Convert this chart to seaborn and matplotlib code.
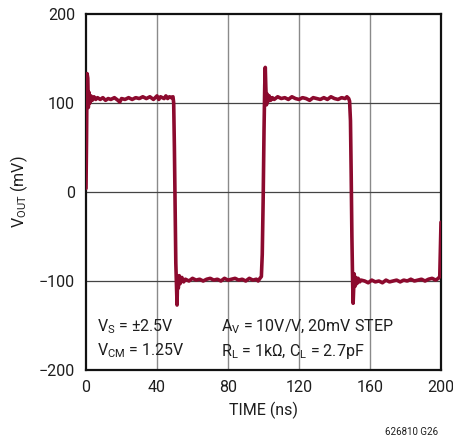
import numpy as np
import pandas as pd
import matplotlib
matplotlib.use("Agg")
import matplotlib.pyplot as plt
import seaborn as sns

# ---------- DATA ----------
high1_t = [0, 0.3, 0.6, 1.0, 1.3, 1.7, 2.2, 2.8, 3.5, 4.5, 5.5, 6.5, 8, 9.5, 11, 12.5, 14, 16, 18, 19,
           20, 22, 24, 26, 28, 30, 32, 34, 36, 38, 40, 41, 42, 44, 45, 46, 47, 48, 49]
high1_v = [4, 60, 133, 128, 95, 112, 100, 108, 103, 107, 104, 106, 104, 106, 103, 105, 104, 106, 103, 101,
           105, 104, 106, 104, 106, 105, 107, 105, 107, 104, 108, 104, 107, 105, 108, 105, 107, 106, 107]

fall1_t = [49.4, 49.8, 50.2, 50.6, 51.0, 51.3, 51.6, 52.0, 52.5, 53, 54, 55, 56]
fall1_v = [100, 50, -20, -80, -105, -127, -95, -108, -94, -103, -96, -101, -98]

low1_t = [58, 60, 62, 64, 66, 68, 70, 72, 74, 76, 78, 80, 82, 84, 86, 88, 90, 92, 94, 96, 97, 98, 98.8]
low1_v = [-100, -97, -99, -98, -100, -98, -97, -99, -98, -100, -97, -99, -98, -97, -99, -98, -100, -97,
          -99, -98, -100, -97, -95]

rise1_t = [99.3, 99.8, 100.3, 100.7, 101.0, 101.3, 101.7, 102.1, 102.6, 103.2, 104, 105]
rise1_v = [-70, -10, 70, 120, 140, 118, 98, 110, 102, 108, 103, 106]

high2_t = [106, 108, 110, 112, 114, 116, 118, 120, 122, 124, 126, 128, 130, 132, 134, 136, 138, 140,
           142, 144, 146, 147, 148, 148.5]
high2_v = [104, 107, 105, 106, 104, 107, 105, 104, 106, 105, 103, 106, 105, 104, 106, 104, 107, 105,
           104, 106, 105, 107, 105, 102]

fall2_t = [149.0, 149.4, 149.8, 150.2, 150.5, 150.8, 151.1, 151.5, 152, 152.6, 153.3, 154.2, 155]
fall2_v = [80, 20, -50, -100, -125, -110, -92, -106, -96, -103, -97, -101, -99]

low2_t = [157, 159, 161, 163, 165, 167, 169, 171, 173, 175, 177, 179, 181, 183, 185, 187, 189, 191,
          193, 195, 197, 198.5, 199.3, 199.7, 200]
low2_v = [-100, -102, -99, -101, -100, -102, -99, -101, -100, -99, -101, -99, -100, -98, -100, -99,
          -98, -100, -98, -97, -99, -97, -95, -60, -34]

x_ticks = [0, 40, 80, 120, 160, 200]
y_ticks = [-200, -100, 0, 100, 200]
# ------------------------------------------------------

TRACE = "#8c0a2e"
FONT = ["Roboto", "DejaVu Sans"]
INK = "#1e1e1e"


def main():
    sns.set_style("white")
    plt.rcParams["font.family"] = FONT
    plt.rcParams["mathtext.fontset"] = "custom"
    plt.rcParams["mathtext.rm"] = "Roboto"
    plt.rcParams["mathtext.it"] = "Roboto"

    t = high1_t + fall1_t + low1_t + rise1_t + high2_t + fall2_t + low2_t
    v = high1_v + fall1_v + low1_v + rise1_v + high2_v + fall2_v + low2_v
    df = pd.DataFrame({"t": t, "v": v})

    fig = plt.figure(figsize=(4.53, 4.38), dpi=100)
    ax = fig.add_axes([86 / 453, 68 / 438, 355 / 453, 356 / 438])

    for xv in x_ticks[1:-1]:
        ax.axvline(xv, color="#8a8a8a", lw=1.0, zorder=1)
    for yv in y_ticks[1:-1]:
        ax.axhline(yv, color="#444444", lw=0.9, zorder=1)

    sns.lineplot(data=df, x="t", y="v", estimator=None, sort=False, color=TRACE,
                 lw=2.6, ax=ax, zorder=3)

    ax.set_xlim(0, 200)
    ax.set_ylim(-200, 200)
    ax.set_xticks(x_ticks)
    ax.set_yticks(y_ticks)
    ax.tick_params(length=0, labelsize=11.5, colors=INK)
    ax.tick_params(axis="x", pad=7)
    ax.tick_params(axis="y", pad=8)
    for s in ax.spines.values():
        s.set_color("#111111")
        s.set_linewidth(1.6)

    ax.set_xlabel("TIME (ns)", fontsize=11.5, color=INK, labelpad=5)
    ax.set_ylabel(r"V$_\mathrm{OUT}$ (mV)", fontsize=11.5, color=INK, labelpad=6)

    ax.text(0.03, 0.11, r"V$_\mathrm{S}$ = ±2.5V", transform=ax.transAxes, fontsize=11.5, color=INK)
    ax.text(0.03, 0.04, r"V$_\mathrm{CM}$ = 1.25V", transform=ax.transAxes, fontsize=11.5, color=INK)
    ax.text(0.38, 0.11, r"A$_\mathrm{V}$ = 10V/V, 20mV STEP", transform=ax.transAxes, fontsize=11.5,
            color=INK)
    ax.text(0.38, 0.04, r"R$_\mathrm{L}$ = 1kΩ, C$_\mathrm{L}$ = 2.7pF", transform=ax.transAxes,
            fontsize=11.5, color=INK)

    fig.text(438 / 453, 1 - 432 / 438, "626810 G26", ha="right", va="center", fontsize=7, color=INK)

    fig.savefig("out.png", dpi=100)


if __name__ == "__main__":
    main()
